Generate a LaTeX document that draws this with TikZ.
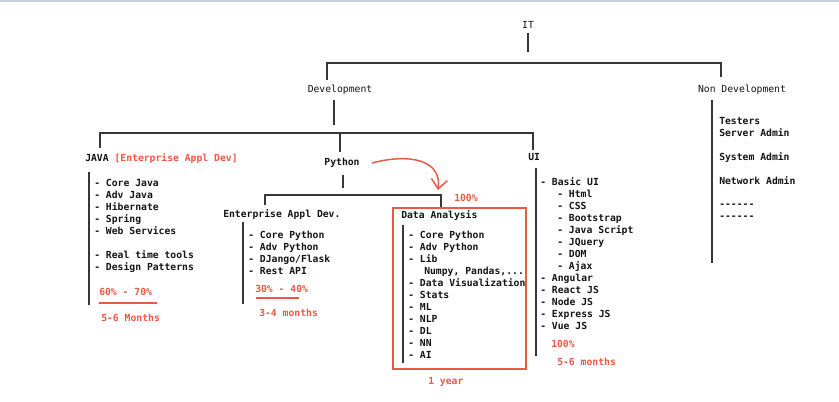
\documentclass[tikz,border=0pt]{standalone}
\usepackage{fontspec}
\setmonofont{DejaVu Sans Mono}
\usetikzlibrary{arrows.meta}
\definecolor{redt}{RGB}{232,90,70}
\definecolor{linec}{RGB}{55,55,55}
\definecolor{topbar}{RGB}{200,208,222}
\begin{document}
\begin{tikzpicture}[x=0.75pt,y=-0.75pt,
  txt/.style={font=\fontsize{7.3pt}{9pt}\selectfont\ttfamily\bfseries, inner sep=0pt, anchor=base west, text=black!92},
  head/.style={txt, font=\fontsize{7.3pt}{9pt}\selectfont\ttfamily, anchor=base},
  rtxt/.style={txt, text=redt},
  conn/.style={draw=linec, line width=1.5pt},
  bar/.style={draw=linec, line width=1.5pt},
  rline/.style={draw=redt, line width=1.5pt},
  rbox/.style={draw=redt, line width=1.2pt}]
\useasboundingbox (0,0) rectangle (839,402);
\fill[white] (0,0) rectangle (839,402);
\fill[topbar] (0,0) rectangle (839,2.5);
% top level
\node[head] (it) at (528,28.5) {IT};
\node[head] (dev) at (340,92.5) {Development};
\node[head] (nondev) at (742,92.5) {Non Development};
\coordinate (itt) at (528,33);
\coordinate (itb) at (528,52);
\coordinate (bartop) at (528,63);
\coordinate (devd) at (327,80);
\coordinate (nondevd) at (721,77);
\draw[conn] (itt) -- (itb);
\draw[conn] (devd) |- (bartop) -| (nondevd);
% development bar
\coordinate (devt) at (334,100);
\coordinate (devb) at (334,125);
\coordinate (devbar) at (334,133);
\coordinate (javad) at (100,148);
\coordinate (pyd) at (340,152);
\coordinate (uid) at (533,150);
\draw[conn] (devt) -- (devb);
\draw[conn] (javad) |- (devbar) -| (uid);
\draw[conn] (pyd |- devbar) -- (pyd);
% non development
\draw[bar] (712,100) -- (712,263);
\node[txt] (testers) at (719,124.5) {Testers};
\node[txt] (server) at (719,136.5) {Server Admin};
\node[txt] (system) at (719,160.5) {System Admin};
\node[txt] (network) at (719,184.5) {Network Admin};
\node[txt] (dash1) at (719,207.5) {------};
\node[txt] (dash2) at (719,219.5) {------};
% JAVA
\node[txt] (java) at (85,161.5) {JAVA \textcolor{redt}{[Enterprise Appl Dev]}};
\draw[bar] (89,172) -- (89,305);
\foreach \t [count=\i from 0] in {- Core Java, - Adv Java, - Hibernate, - Spring, - Web Services}
  \node[txt] (javaitem\i) at (94,{186.5+12*\i}) {\t};
\node[txt] (rtt) at (94,258.5) {- Real time tools};
\node[txt] (dp) at (94,270.5) {- Design Patterns};
\node[rtxt] (jpct) at (99,295.5) {60\% - 70\%};
\draw[rline] (99,303) -- (157,303);
\node[rtxt] (jmon) at (101,321.5) {5-6 Months};
% Python
\node[head, font=\fontsize{7.3pt}{9pt}\selectfont\ttfamily\bfseries] (py) at (342,165.5) {Python};
\coordinate (pyt) at (343,175);
\coordinate (pyb) at (343,188);
\coordinate (pybar) at (343,195);
\coordinate (ead) at (265,205);
\coordinate (dad) at (441,208);
\draw[conn] (pyt) -- (pyb);
\draw[conn] (ead) |- (pybar) -| (dad);
\coordinate (arrs) at (372,163);
\coordinate (arre) at (438,190);
\draw[draw=redt, line width=1.1pt, -{Straight Barb[length=7pt,width=12pt]}] (arrs) .. controls (410,153) and (442,160) .. (arre);
% Enterprise Appl Dev.
\node[txt] (eadt) at (223,217.5) {Enterprise Appl Dev.};
\draw[bar] (243,222) -- (243,304);
\foreach \t [count=\i from 0] in {- Core Python, - Adv Python, - DJango/Flask, - Rest API}
  \node[txt] (eaditem\i) at (248,{238.5+12*\i}) {\t};
\node[rtxt] (epct) at (255,292.5) {30\% - 40\%};
\draw[rline] (256,298) -- (299,298);
\node[rtxt] (emon) at (259,316.5) {3-4 months};
% Data Analysis
\draw[rbox] (393,208) rectangle (526,369);
\node[rtxt] (dapct) at (454,201.5) {100\%};
\node[txt] (dat) at (401,218.5) {Data Analysis};
\draw[bar] (403,225) -- (403,363);
\foreach \t [count=\i from 0] in {- Core Python, - Adv Python, - Lib}
  \node[txt] (daitem\i) at (408,{238.5+12*\i}) {\t};
\node[txt] (numpy) at (424,274.5) {Numpy, Pandas,...};
\foreach \t [count=\i from 0] in {- Data Visualization, - Stats, - ML, - NLP, - DL, - NN, - AI}
  \node[txt] (dbitem\i) at (408,{286.5+12*\i}) {\t};
\node[rtxt] (damon) at (428,384.5) {1 year};
% UI
\node[txt] (ui) at (528,160.5) {UI};
\draw[bar] (536,168) -- (536,356);
\node[txt] (basic) at (540,185.5) {- Basic UI};
\foreach \t [count=\i from 0] in {- Html, - CSS, - Bootstrap, - Java Script, - JQuery, - DOM, - Ajax}
  \node[txt] (uisub\i) at (557,{197.5+12*\i}) {\t};
\foreach \t [count=\i from 0] in {- Angular, - React JS, - Node JS, - Express JS, - Vue JS}
  \node[txt] (uiitem\i) at (540,{281.5+12*\i}) {\t};
\node[rtxt] (uipct) at (551,347.5) {100\%};
\node[rtxt] (uimon) at (557,365.5) {5-6 months};
\end{tikzpicture}
\end{document}
